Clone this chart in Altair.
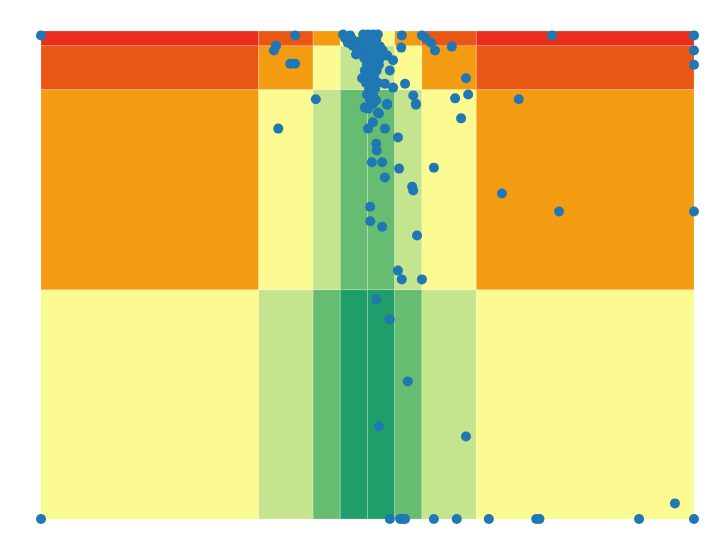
import altair as alt
import pandas as pd

# Grid bands (data units)
x_edges = [-60, -20, -10, -5, 0, 5, 10, 20, 60]
y_edges = [0, 47, 88, 97, 100]
col_rank = [3, 2, 1, 0, 0, 1, 2, 3]          # distance of each column from centre
level_colors = ["#1f9e6a", "#66bd72", "#c4e48e", "#fbfb92",
                "#f39c12", "#ea5613", "#ea2e1d"]

# Observed points
pt_x = [
    -60, -60, -13.3, -16.8, -17.2, -14.2, -13.3, -9.5, -16.4,
    -4.1, -3.2, -2.7, -3.6, -1.9, -4.5, -2.8, -1.8, -2.1,
    6.3, 6.2, 10.0, 10.7, 11.7, 12.4, 15.5,
    18.1, 18.5, 16.1, 17.2, 12.2, 8.2, 27.8, 33.9, 24.7, 35.2,
    60, 60, 60, 60,
    9.1, 5.6, 6.3, 10.0, 1.6, 4.1, 7.4, 2.1, 18.1, 56.5,
    4.1, 6.0, 6.5, 6.9, 12.2, 16.4, 22.3, 31.0, 31.6, 49.9, 60,
    0.5, 0.5, 2.7, 8.4,
    0.1, 1.0, 3.6, 8.9, 2.1, 1.0, 0.1, 3.2, 5.6, 1.6, 1.7, 0.8, 2.7, 5.8, 3.2,
    2.8, 2.3, 3.6, -1.0, 3.2, 4.7, 6.9, 8.4, 8.9, 3.6, -0.5, 1.9, 4.7, 4.1,
    -0.8, 0.1, 1.0, 1.9, -0.5, 0.5, 1.6, -0.8, 0.3, 1.4, 2.3,
    -0.3, 0.8, 1.9, -0.6, 0.5, 1.6, -0.1, 1.0, 2.1, -0.5, 0.6, 1.7,
    0.1, 1.2, -0.3, 0.8, 1.9, 0.3, 1.4, -0.1, 1.0, 0.5, 1.6,
]
pt_y = [
    99.1, 0, 99.1, 97.0, 96.0, 93.3, 93.3, 86.0, 80.0,
    98.5, 99.1, 97.0, 97.6, 96.0, 99.3, 98.3, 97.8, 95.2,
    99.1, 96.6, 99.1, 98.5, 97.6, 96.0, 96.8,
    90.3, 87.0, 86.2, 82.1, 72.0, 68.1, 86.0, 99.1, 66.7, 63.0,
    99.1, 96.0, 93.1, 63.0,
    58.1, 50.9, 49.1, 49.1, 45.0, 40.9, 28.2, 19.0, 16.9, 3.2,
    0, 0, 0, 0, 0, 0, 0, 0, 0, 0, 0,
    64.0, 61.0, 59.9, 67.3,
    84.1, 85.1, 84.9, 84.9, 83.1, 81.3, 80.0, 80.0, 78.2, 76.9, 75.5, 73.1, 73.1, 71.8, 70.0,
    96.0, 94.4, 95.0, 90.3, 89.2, 88.4, 89.2, 86.8, 85.1, 85.1, 84.3, 83.3, 94.0, 91.9,
    99.3, 99.3, 99.3, 99.3, 98.1, 98.1, 98.1, 96.8, 96.8, 96.8, 96.8,
    95.6, 95.6, 95.6, 94.4, 94.4, 94.4, 93.1, 93.1, 93.1, 91.9, 91.9, 91.9,
    90.7, 90.7, 89.4, 89.4, 89.4, 88.2, 88.2, 87.0, 87.0, 85.8, 85.8,
]

cells = []
for i in range(len(x_edges) - 1):
    for j in range(len(y_edges) - 1):
        cells.append({"x0": x_edges[i], "x1": x_edges[i + 1],
                      "y0": y_edges[j], "y1": y_edges[j + 1],
                      "level": col_rank[i] + j})
cells = pd.DataFrame(cells)
points = pd.DataFrame({"x": pt_x, "y": pt_y})

xs = alt.Scale(domain=[x_edges[0], x_edges[-1]], nice=False, zero=False, clamp=True)
ys = alt.Scale(domain=[y_edges[0], y_edges[-1]], nice=False, zero=False, clamp=True)

grid = alt.Chart(cells).mark_rect(stroke="white", strokeWidth=0.6, strokeOpacity=0.35).encode(
    x=alt.X("x0:Q", scale=xs, axis=None),
    x2="x1:Q",
    y=alt.Y("y0:Q", scale=ys, axis=None),
    y2="y1:Q",
    color=alt.Color("level:O",
                    scale=alt.Scale(domain=list(range(7)), range=level_colors),
                    legend=None),
)

dots = alt.Chart(points).mark_circle(size=100, opacity=1, color="#1f77b4").encode(
    x=alt.X("x:Q", scale=xs, axis=None),
    y=alt.Y("y:Q", scale=ys, axis=None),
)

chart = (grid + dots).properties(
    width=653, height=488,
    padding={"left": 33, "top": 23, "right": 5, "bottom": 10},
    autosize=alt.AutoSizeParams(type="none"),
).configure_view(strokeWidth=0)

chart.save("out.html", embed_options={"renderer": "svg", "actions": False})
